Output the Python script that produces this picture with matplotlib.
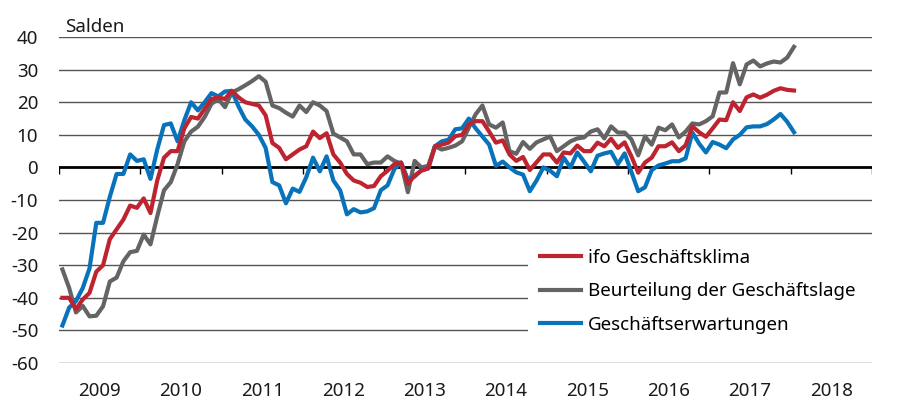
import numpy as np
import matplotlib
matplotlib.use('Agg')
import matplotlib.pyplot as plt
from matplotlib.patches import Rectangle

plt.rcParams['font.family'] = ['Noto Sans', 'DejaVu Sans']
plt.rcParams['axes.unicode_minus'] = False

# monthly balances, Jan 2009 .. Jan 2018
klima = [
    -40, -40, -43.5, -40.5, -38.5, -32, -30, -22, -19, -16, -11.7, -12.4,
    -9.5, -14, -4, 3, 5, 5, 12, 15.5, 15, 18, 21, 21.5,
    21, 23.5, 21.5, 20, 19.5, 19, 16, 7.5, 6, 2.5, 4, 5.5,
    6.5, 11, 9, 10.5, 4, 1.5, -2, -4, -4.7, -6, -5.7, -2.7,
    -1, 1, 1.5, -5, -2.5, -1, -0.3, 6.5, 7, 7.6, 9.6, 10,
    13.2, 14.2, 14.2, 11, 7.6, 8.3, 4, 2, 3.2, -0.8, 1.6, 4,
    4, 1.5, 4.6, 4.3, 6.7, 5, 5, 7.6, 6.5, 8.8, 6, 7.7,
    3.4, -1.6, 1.5, 3, 6.5, 6.5, 7.7, 5, 6.8, 12.6, 10.8, 9.4,
    12, 14.7, 14.5, 20, 17.3, 21.5, 22.4, 21.4, 22.3, 23.5, 24.3, 23.8,
    23.6,
]
lage = [
    -31.3, -37, -44.5, -42.5, -45.7, -45.5, -42.6, -35, -33.8, -28.8, -26, -25.6,
    -20.6, -23.6, -15, -7, -4.5, 1, 8, 11, 12.5, 15.5, 19.5, 21,
    18.5, 23, 24, 25.2, 26.5, 28, 26.3, 19, 18.2, 16.8, 15.6, 19,
    17, 20, 19, 17.3, 10.4, 9.2, 8, 4, 4, 1, 1.5, 1.5,
    3.4, 2, 1.2, -7.6, 2, 0, 0.5, 6.5, 5.5, 6, 6.7, 8,
    12.2, 16.3, 19, 13.2, 12.2, 13.8, 5, 4.2, 7.8, 5.7, 7.7, 8.6,
    9.5, 5, 6.5, 8, 8.9, 9.2, 11, 11.7, 8.9, 12.6, 10.7, 10.7,
    8.6, 3.7, 9.5, 7, 12.2, 11.4, 13.2, 9.2, 11, 13.5, 13.2, 14.2,
    15.7, 23, 23, 32, 25.5, 31.6, 32.8, 31, 31.9, 32.5, 32.2, 33.7,
    37,
]
erwartungen = [
    -48.5, -43, -41, -37, -31, -17, -17, -9, -2, -2, 4, 2,
    2.5, -3.5, 5.5, 13, 13.5, 8, 14.5, 20, 17.5, 20, 22.8, 21.8,
    23.3, 23.5, 18.7, 14.7, 12.6, 10, 6, -4.5, -5.5, -11, -6.5, -7.5,
    -3, 3, -1.2, 3.4, -4, -7, -14.4, -12.8, -13.8, -13.5, -12.5, -7,
    -5.5, -0.5, 1.5, -3.7, -2.8, -0.8, -0.3, 6.5, 8, 8.5, 11.7, 12,
    15, 12, 9.5, 7, 0.5, 1.8, 0, -1.5, -2.2, -7.3, -4, 0,
    -1, -2.7, 3, 0, 4.6, 1.8, -1.2, 3.6, 4.3, 4.8, 1, 4.3,
    -1.4, -7.3, -6.1, -0.8, 0.6, 1.2, 1.9, 1.9, 2.8, 10.7, 7.3, 4.6,
    7.8, 7, 5.9, 8.6, 10, 12.3, 12.6, 12.6, 13.3, 14.7, 16.4, 14,
    10.8,
]
years = list(range(2009, 2019))
start_year = 2009

x = start_year + (np.arange(len(klima)) + 0.5) / 12

fig = plt.figure(figsize=(8.97, 4.03), dpi=100)
ax = fig.add_axes([0.0658, 0.0993, 0.9062, 0.8087])

for v in range(-60, 41, 10):
    if v != 0:
        ax.axhline(v, color='#555555', lw=1.0, zorder=1)
ax.axhline(0, color='black', lw=2.0, zorder=4)
ax.vlines(years + [years[-1] + 1], -1.9, 0, color='black', lw=1.0, zorder=4)

# white box behind legend hides the grid
ax.add_patch(Rectangle((0.577, 0.02), 0.43, 0.355, transform=ax.transAxes,
                       facecolor='white', edgecolor='none', zorder=2))

ax.plot(x, lage, color='#646464', lw=3, label='Beurteilung der Geschäftslage', zorder=5)
ax.plot(x, erwartungen, color='#0873BB', lw=3, label='Geschäftserwartungen', zorder=5)
ax.plot(x, klima, color='#BE2430', lw=3, label='ifo Geschäftsklima', zorder=6)

ax.set_xlim(2009, 2019)
ax.set_ylim(-60, 40)
ax.set_yticks(range(-60, 41, 10))
ax.set_xticks([y + 0.5 for y in years])
ax.set_xticklabels([str(y) for y in years])
ax.tick_params(axis='both', length=0, labelsize=13.5, colors='#1a1a1a')
ax.tick_params(axis='y', pad=15)
ax.tick_params(axis='x', pad=14)
for s in ax.spines.values():
    s.set_visible(False)

ax.text(0.007, 1.015, 'Salden', transform=ax.transAxes, fontsize=13.5,
        color='#1a1a1a', ha='left', va='baseline')

h, l = ax.get_legend_handles_labels()
order = [2, 0, 1]
ax.legend([h[i] for i in order], [l[i] for i in order], loc='upper left',
          bbox_to_anchor=(0.592, 0.350), frameon=False, fontsize=13.5,
          handlelength=2.2, handletextpad=0.35, labelspacing=0.82,
          borderpad=0, borderaxespad=0)

fig.savefig('out.png', dpi=100)
